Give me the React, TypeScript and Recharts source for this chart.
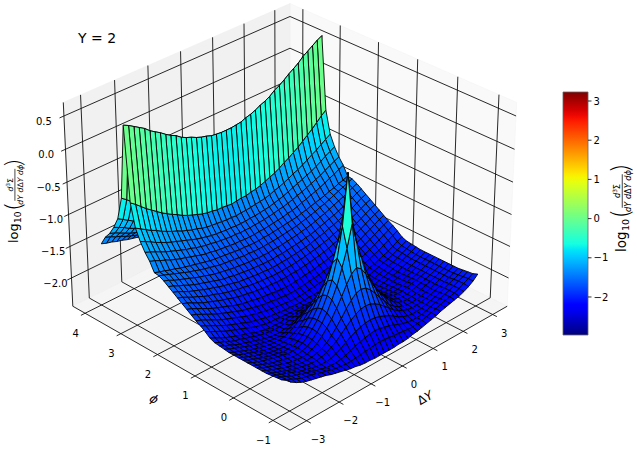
import { Bar, BarChart, Scatter, ScatterChart, XAxis, YAxis } from "recharts";

// azimuthal angle of each mesh row
const phiValues = [
  -0.97, -0.85, -0.72, -0.6, -0.48, -0.36, -0.24, -0.12, 0, 0.12, 0.24, 0.36, 0.48, 0.6, 0.72, 0.85, 0.97,
  1.09, 1.21, 1.33, 1.45, 1.57, 1.69, 1.81, 1.93, 2.05, 2.17, 2.3, 2.42, 2.54, 2.66, 2.78, 2.9, 3.02, 3.14,
  3.26, 3.38, 3.5, 3.62, 3.75, 3.87,
];
// |dY| of each mesh column, the surface reads the same on both sides of dY = 0
const dYHalf = [
  0, 0.154, 0.307, 0.46, 0.614, 0.768, 0.92, 1.075, 1.228, 1.38, 1.535, 1.69, 1.84, 1.995, 2.15, 2.3, 2.455,
  2.61, 2.763, 2.916, 3.07,
];

// log10 values, in hundredths, from dY = 0 out to dY = 3.07
const frontRow8 = [-240, -240, -240, -239, -239, -238, -236, -235, -233, -231, -229, -227, -224, -222, -220, -218, -216, -213, -209, -204, -197];
const frontRow7 = [-226, -227, -228, -229, -230, -231, -232, -232, -231, -230, -228, -226, -224, -221, -219, -217, -215, -212, -208, -204, -200];
const phiRow0 = [7, -70, -115, -145, -165, -182, -195, -205, -213, -219, -222, -223, -223, -221, -219, -217, -215, -213, -210, -207, -203];
const phiRow1 = [-66, -100, -126, -150, -168, -184, -196, -206, -214, -220, -223, -224, -224, -222, -220, -218, -216, -213, -210, -207, -203];
const phiRow2 = [-130, -136, -148, -163, -177, -190, -200, -209, -216, -221, -224, -225, -224, -223, -221, -218, -216, -213, -210, -207, -203];
const phiRow3 = [-160, -162, -169, -178, -189, -199, -208, -215, -220, -223, -225, -225, -225, -223, -221, -219, -216, -213, -210, -207, -203];
const phiRow4 = [-182, -183, -187, -192, -199, -206, -213, -218, -222, -225, -226, -226, -225, -223, -221, -219, -216, -213, -210, -207, -203];
const phiRow5 = [-200, -201, -203, -206, -210, -215, -220, -224, -227, -228, -228, -227, -225, -223, -221, -218, -215, -212, -209, -206, -202];
const phiRow6 = [-213, -214, -216, -218, -221, -224, -227, -229, -230, -230, -229, -227, -225, -222, -220, -217, -215, -212, -208, -205, -201];
const phiRow7 = [-222, -223, -224, -225, -226, -228, -229, -230, -230, -229, -228, -226, -224, -221, -219, -216, -214, -211, -207, -204, -200];
const phiRow8 = [-228, -228, -229, -229, -230, -230, -231, -231, -231, -230, -228, -226, -223, -220, -218, -215, -212, -209, -205, -201, -197];
const phiRow9 = [-232, -232, -232, -232, -231, -231, -230, -230, -229, -227, -225, -222, -219, -216, -213, -210, -207, -203, -199, -195, -191];
const phiRow10 = [-232, -232, -231, -231, -230, -229, -228, -227, -225, -223, -221, -218, -215, -212, -209, -206, -202, -198, -194, -190, -186];
const phiRow11 = [-229, -229, -228, -227, -226, -225, -224, -222, -220, -218, -216, -213, -210, -207, -204, -201, -197, -193, -189, -185, -182];
const phiRow12 = [-224, -224, -223, -222, -221, -220, -219, -217, -215, -213, -211, -208, -205, -202, -199, -196, -192, -188, -184, -180, -177];
const phiRow13 = [-218, -218, -217, -216, -215, -214, -213, -211, -210, -208, -206, -203, -200, -197, -194, -191, -187, -183, -179, -175, -172];
const phiRow14 = [-210, -210, -209, -209, -208, -207, -206, -204, -203, -201, -199, -196, -194, -191, -188, -185, -182, -178, -174, -170, -167];
const phiRow15 = [-204, -204, -203, -203, -202, -201, -200, -198, -197, -195, -193, -191, -188, -185, -183, -180, -176, -173, -169, -165, -162];
const phiRow16 = [-198, -198, -197, -197, -196, -195, -194, -193, -191, -189, -187, -185, -182, -180, -177, -174, -171, -168, -164, -160, -157];
const phiRow17 = [-192, -192, -191, -191, -190, -189, -188, -187, -185, -184, -182, -179, -177, -174, -172, -169, -166, -162, -159, -155, -152];
const phiRow18 = [-186, -186, -185, -185, -184, -183, -182, -181, -179, -178, -176, -174, -171, -169, -166, -163, -160, -157, -154, -150, -147];
const phiRow19 = [-180, -180, -179, -179, -178, -177, -176, -175, -174, -172, -170, -168, -166, -163, -161, -158, -155, -152, -149, -146, -143];
const phiRow20 = [-174, -174, -173, -173, -172, -171, -170, -169, -168, -167, -165, -163, -161, -159, -157, -155, -152, -150, -147, -145, -142];
const phiRow21 = [-168, -168, -167, -167, -166, -165, -164, -163, -161, -160, -158, -155, -153, -150, -148, -145, -142, -138, -135, -131, -128];
const phiRow22 = [-161, -161, -160, -160, -159, -158, -157, -155, -154, -152, -150, -147, -145, -142, -139, -136, -133, -129, -125, -121, -118];
const phiRow23 = [-154, -154, -153, -153, -152, -151, -150, -148, -146, -144, -141, -138, -135, -132, -129, -126, -122, -118, -113, -109, -105];
const phiRow24 = [-145, -144, -144, -143, -142, -141, -140, -138, -135, -133, -130, -127, -123, -120, -116, -112, -107, -103, -98, -93, -88];
const phiRow25 = [-130, -129, -128, -128, -126, -125, -123, -120, -117, -114, -110, -105, -101, -96, -91, -85, -79, -73, -66, -59, -53];
const phiRow26 = [-18, -18, -17, -16, -13, -11, -8, -4, -1, 3, 9, 13, 18, 24, 29, 34, 41, 46, 51, 56, 60];

// one entry per value of phiValues: the rows repeat about phi = 0 and phi = pi
const zRows = [
  frontRow8, frontRow7, phiRow6, phiRow5, phiRow4, phiRow3, phiRow2, phiRow1,
  phiRow0, phiRow1, phiRow2, phiRow3, phiRow4, phiRow5, phiRow6, phiRow7, phiRow8, phiRow9, phiRow10,
  phiRow11, phiRow12, phiRow13, phiRow14, phiRow15, phiRow16, phiRow17, phiRow18, phiRow19, phiRow20,
  phiRow21, phiRow22, phiRow23, phiRow24, phiRow25, phiRow26,
  phiRow25, phiRow24, phiRow23, phiRow22, phiRow21, phiRow20,
];

const dYTicks = [-3, -2, -1, 0, 1, 2, 3];
const phiTicks = [-1, 0, 1, 2, 3, 4];
const zTicks = [-2, -1.5, -1, -0.5, 0, 0.5];
const barTicks = [-2, -1, 0, 1, 2, 3];

const W = 637;
const H = 450;
const FONT = "DejaVu Sans";
const X_LIM: [number, number] = [-3.5, 3.5];
const Y_LIM: [number, number] = [-1.424, 4.35];
const Z_LIM: [number, number] = [-2.454, 0.702];
const BAR_LIM: [number, number] = [-2.97, 3.23];

const dYValues = [...dYHalf.slice(1).reverse().map((v) => -v), ...dYHalf];
const minus = (s: string) => s.replace("-", "\u2212");

// jet, same break points as matplotlib
const ramp = (t: number, pts: number[][]) => {
  for (let i = 1; i < pts.length; i++) {
    if (t <= pts[i][0]) {
      const [x0, y0] = pts[i - 1];
      const [x1, y1] = pts[i];
      return y0 + ((t - x0) / (x1 - x0)) * (y1 - y0);
    }
  }
  return pts[pts.length - 1][1];
};
const jet = (t: number) => {
  const r = ramp(t, [[0, 0], [0.35, 0], [0.66, 1], [0.89, 1], [1, 0.5]]);
  const g = ramp(t, [[0, 0], [0.125, 0], [0.375, 1], [0.64, 1], [0.91, 0], [1, 0]]);
  const b = ramp(t, [[0, 0.5], [0.11, 1], [0.34, 1], [0.65, 0], [1, 0]]);
  return `rgb(${Math.round(r * 255)},${Math.round(g * 255)},${Math.round(b * 255)})`;
};
const jetAt = (z: number) => jet((z - BAR_LIM[0]) / (BAR_LIM[1] - BAR_LIM[0]));

// matplotlib's default 3d camera: elev 30, azim -135, box 4:4:3
const BOX = [1.143, 1.143, 0.857];
const FOCAL = 2745;
const CX = 290;
const CY = 206.5;
const toBox = (v: number, lim: [number, number], size: number) => ((v - lim[0]) / (lim[1] - lim[0]) - 0.5) * size;
const project = (dY: number, phi: number, z: number) => {
  const x = toBox(dY, X_LIM, BOX[0]);
  const y = toBox(phi, Y_LIM, BOX[1]);
  const h = toBox(z, Z_LIM, BOX[2]);
  const right = (x - y) * 0.7071;
  const up = (x + y) * 0.3536 + h * 0.866;
  const depth = 10 - (-(x + y) * 0.6124 + h * 0.5);
  return { sx: CX + (FOCAL * right) / depth, sy: CY - (FOCAL * up) / depth, depth };
};

type Mark = {
  sx: number;
  sy: number;
  offs: number[][];
  closed: boolean;
  fill: string;
  stroke: string;
  sw: number;
};

const makeMark = (pts: number[][], fill: string, stroke: string, sw: number, closed = true): Mark => {
  const p = pts.map(([a, b, c]) => project(a, b, c));
  return {
    sx: p[0].sx,
    sy: p[0].sy,
    offs: p.map((q) => [q.sx - p[0].sx, q.sy - p[0].sy]),
    closed,
    fill,
    stroke,
    sw,
  };
};

const [x0, x1] = X_LIM;
const [y0, y1] = Y_LIM;
const [z0, z1] = Z_LIM;

const paneMarks = [
  makeMark([[x1, y0, z0], [x1, y1, z0], [x1, y1, z1], [x1, y0, z1]], "#f9f9f9", "#f2f2f2", 0.5),
  makeMark([[x0, y1, z0], [x1, y1, z0], [x1, y1, z1], [x0, y1, z1]], "#f1f1f1", "#ececec", 0.5),
  makeMark([[x0, y0, z0], [x1, y0, z0], [x1, y1, z0], [x0, y1, z0]], "#f5f5f5", "#efefef", 0.5),
];

const LINE = "#111";
const LINE_W = 0.9;
const TICK_X = (x1 - x0) * 0.018;
const TICK_Y = (y1 - y0) * 0.018;
const gridMarks = [
  ...dYTicks.map((v) => makeMark([[v, y0 - TICK_Y, z0], [v, y1, z0], [v, y1, z1]], "none", LINE, LINE_W, false)),
  ...phiTicks.map((v) => makeMark([[x0 - TICK_X, v, z0], [x1, v, z0], [x1, v, z1]], "none", LINE, LINE_W, false)),
  ...zTicks.map((v) => makeMark([[x0 - TICK_X, y1, v], [x1, y1, v], [x1, y0, v]], "none", LINE, LINE_W, false)),
  makeMark([[x0, y0, z0], [x1, y0, z0]], "none", LINE, LINE_W, false),
  makeMark([[x0, y0, z0], [x0, y1, z0]], "none", LINE, LINE_W, false),
  makeMark([[x0, y1, z0], [x0, y1, z1]], "none", LINE, LINE_W, false),
];

const zAt = (i: number, j: number) => {
  const half = zRows[i];
  const k = Math.abs(j - (dYHalf.length - 1));
  return half[k] / 100;
};

type Cell = Mark & { depth: number };
const surfaceMarks: Cell[] = [];
for (let i = 0; i < phiValues.length - 1; i++) {
  for (let j = 0; j < dYValues.length - 1; j++) {
    const corners = [
      [dYValues[j], phiValues[i], zAt(i, j)],
      [dYValues[j + 1], phiValues[i], zAt(i, j + 1)],
      [dYValues[j + 1], phiValues[i + 1], zAt(i + 1, j + 1)],
      [dYValues[j], phiValues[i + 1], zAt(i + 1, j)],
    ];
    const avg = corners.reduce((s, c) => s + c[2], 0) / 4;
    const depth = corners.reduce((s, c) => s + project(c[0], c[1], c[2]).depth, 0) / 4;
    surfaceMarks.push({ ...makeMark(corners, jetAt(avg), "#000", 0.9), depth });
  }
}
surfaceMarks.sort((a, b) => b.depth - a.depth);

const edgeLabel = (p: { sx: number; sy: number }, dx: number, dy: number, label: string) => ({
  sx: p.sx + dx,
  sy: p.sy + dy,
  label,
});
const tickLabels = [
  ...dYTicks.map((v) => edgeLabel(project(v, y0, z0), 11.5, 18.5, minus(String(v)))),
  ...phiTicks.map((v) => edgeLabel(project(x0, v, z0), -9.5, 20, minus(String(v)))),
  ...zTicks.map((v) => edgeLabel(project(x0, y1, v), -20 + (0.5 - v) * 1.6, 5.5, minus(v.toFixed(1)))),
];

const barData = [{ name: "scale", range: BAR_LIM }];
const barStops = Array.from({ length: 41 }, (_, i) => i / 40);

const PolyMark = (props: any) => {
  const { cx, cy, payload } = props;
  const m = payload as Mark;
  const d = m.offs.map(([a, b], i) => `${i ? "L" : "M"}${(cx + a).toFixed(2)} ${(cy + b).toFixed(2)}`).join("");
  return (
    <path
      d={m.closed ? `${d}Z` : d}
      fill={m.fill}
      stroke={m.stroke}
      strokeWidth={m.sw}
      strokeLinejoin="round"
    />
  );
};

const TextMark = (props: any) => (
  <text x={props.cx} y={props.cy} textAnchor="middle" dominantBaseline="central" fontSize={10} fill="#000" fontFamily={FONT}>
    {props.payload.label}
  </text>
);

// log10( d3Sigma / dY dDeltaY dphi ), laid out by hand along the rotated axis
const MathLabel = ({ x, y, scale }: { x: number; y: number; scale: number }) => (
  <g transform={`translate(${x} ${y}) rotate(-90) scale(${scale})`} fontFamily={FONT} fill="#000">
    <text x={0} y={0} fontSize={12.5}>log</text>
    <text x={19.5} y={3} fontSize={8.8}>10</text>
    <text x={31} y={3.6} fontSize={23} fontWeight={200}>(</text>
    <text x={56.5} y={-5.2} fontSize={7.6} textAnchor="middle" fontStyle="italic">
      d<tspan fontSize={5.4} dy={-3} fontStyle="normal">3</tspan>
      <tspan dy={3} fontStyle="normal">Σ</tspan>
    </text>
    <line x1={41} x2={72} y1={-3} y2={-3} stroke="#000" strokeWidth={0.7} />
    <text x={56.5} y={5} fontSize={7.6} textAnchor="middle" fontStyle="italic">
      dY d<tspan fontStyle="normal">Δ</tspan>Y dϕ
    </text>
    <text x={73} y={3.6} fontSize={23} fontWeight={200}>)</text>
  </g>
);

export default function App() {
  return (
    <div style={{ position: "absolute", left: 0, top: 0, width: W, height: H, fontFamily: FONT, background: "#fff" }}>
      <div style={{ position: "absolute", left: 0, top: 0 }}>
        <ScatterChart width={W} height={H} margin={{ top: 0, right: 0, bottom: 0, left: 0 }}>
          <XAxis type="number" dataKey="sx" domain={[0, W]} hide allowDataOverflow />
          <YAxis type="number" dataKey="sy" domain={[0, H]} reversed hide allowDataOverflow />
          <Scatter data={paneMarks} shape={PolyMark} isAnimationActive={false} />
          <Scatter data={gridMarks} shape={PolyMark} isAnimationActive={false} />
          <Scatter data={surfaceMarks} shape={PolyMark} isAnimationActive={false} />
          <Scatter data={tickLabels} shape={TextMark} isAnimationActive={false} />
        </ScatterChart>
      </div>
      <div style={{ position: "absolute", left: 0, top: 0 }}>
        <BarChart
          width={W}
          height={H}
          data={barData}
          barCategoryGap={0}
          margin={{ top: 92, right: 19, bottom: 115, left: 563 }}
        >
          <defs>
            <linearGradient id="jetFill" x1="0" y1="1" x2="0" y2="0">
              {barStops.map((t) => (
                <stop key={t} offset={t} stopColor={jet(t)} />
              ))}
            </linearGradient>
          </defs>
          <XAxis dataKey="name" hide />
          <YAxis
            orientation="right"
            type="number"
            domain={BAR_LIM}
            ticks={barTicks}
            width={30}
            interval={0}
            axisLine={false}
            tickSize={3.5}
            tickLine={{ stroke: "#000", strokeWidth: 0.8 }}
            tick={{ fontSize: 10, fill: "#000", fontFamily: FONT }}
            tickFormatter={(v: number) => minus(String(v))}
          />
          <Bar dataKey="range" fill="url(#jetFill)" stroke="#666" strokeWidth={0.8} isAnimationActive={false} />
        </BarChart>
      </div>
      <svg width={W} height={H} style={{ position: "absolute", left: 0, top: 0, pointerEvents: "none" }}>
        <text x={78} y={43} fontSize={14} fontFamily={FONT} fill="#000">Y = 2</text>
        <MathLabel x={18} y={243} scale={1.03} />
        <MathLabel x={625.5} y={252} scale={1.08} />
        <text x={154} y={399} fontSize={12} fontStyle="italic" fontFamily={FONT} textAnchor="middle" dominantBaseline="central" transform="rotate(30 154 399)">ϕ</text>
        <text x={425} y={398} fontSize={12} fontFamily={FONT} textAnchor="middle" dominantBaseline="central" transform="rotate(-30 425 398)">
          Δ<tspan fontStyle="italic">Y</tspan>
        </text>
      </svg>
    </div>
  );
}
